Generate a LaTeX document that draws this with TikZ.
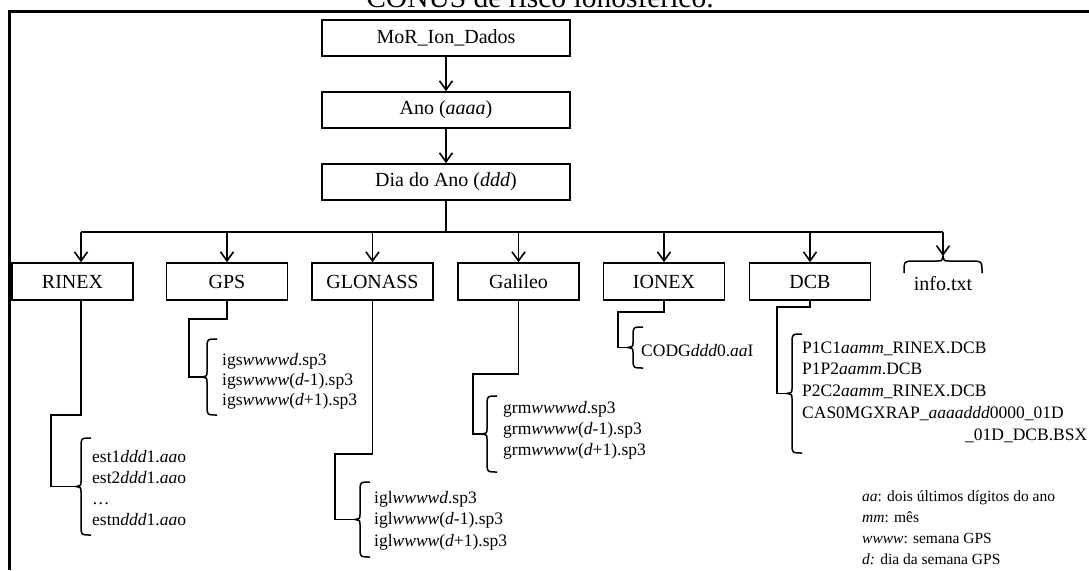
\documentclass[tikz,border=0pt]{standalone}
\usepackage{fontspec}
\setmainfont{Liberation Serif}
\usetikzlibrary{arrows.meta}

% left curly brace in front of a file list: name of tip, x, top, bottom
\newcommand\filebrace[4]{%
  \draw[brc] ({#2+10},#3) .. controls ({#2+1},#3) .. (#2,{#3+5})
    -- (#2,{(#3+#4)/2-5}) .. controls (#2,{(#3+#4)/2-1}) .. ({#2-5},{(#3+#4)/2})
    .. controls (#2,{(#3+#4)/2+1}) .. (#2,{(#3+#4)/2+5})
    -- (#2,{#4-5}) .. controls ({#2+1},#4) .. ({#2+10},#4);
  \coordinate (#1) at ({#2-5},{(#3+#4)/2});}

\begin{document}
\begin{tikzpicture}[x=1pt,y=-1pt,
  ln/.style={line width=1.7pt},
  arr/.style={ln,-{Straight Barb[length=9pt,width=13pt,line width=1.6pt]}},
  box/.style={draw,line width=1.6pt,inner sep=0pt,font=\fontsize{20}{24}\selectfont},
  topbox/.style={box,minimum width=248pt,minimum height=36pt},
  subbox/.style={box,minimum width=121pt,minimum height=37pt},
  files/.style={anchor=base west,align=left,inner sep=0pt,font=\fontsize{17.5}{#1}\selectfont},
  files/.default=21,
  brc/.style={line width=1.5pt},
  frame/.style={line width=3pt}]

\useasboundingbox (0,0) rectangle (1089,570);
\clip (0,0) rectangle (1089,570);

% heading line above the frame
\node[anchor=base,inner sep=0pt,font=\fontsize{29.5}{31}\selectfont] (title) at (540,7) {CONUS de risco ionosférico.};

% frame
\draw[frame] (9,570) -- (9,11.5) -- (1089,11.5);

% folder chain
\node[topbox] (mor) at (446,38) {MoR\_Ion\_Dados};
\node[topbox] (ano) at (446,110) {Ano (\textit{aaaa})};
\node[topbox] (dia) at (446,182) {Dia do Ano (\textit{ddd})};
\draw[arr] (mor) -- (ano);
\draw[arr] (ano) -- (dia);

% sub-folders
\node[subbox] (rinex)   at (72.5,281.5)  {RINEX};
\node[subbox] (gps)     at (227,281.5)   {GPS};
\node[subbox] (glonass) at (372.5,281.5) {GLONASS};
\node[subbox] (galileo) at (518.5,281.5) {Galileo};
\node[subbox] (ionex)   at (664,281.5)   {IONEX};
\node[subbox] (dcb)     at (810,281.5)   {DCB};
\node[inner sep=0pt,font=\fontsize{20}{24}\selectfont] (info) at (943,284) {info.txt};

% distribution bus
\coordinate (busL) at (81,232);
\coordinate (busR) at (943,232);
\coordinate (infotip) at (943,256);
\draw[ln] (dia.south) -- (dia.south |- busL);
\draw[ln] (busL) -- (busR);
\draw[arr] (busL) -- (busL |- rinex.north);
\draw[arr] (gps.north |- busL) -- (gps.north);
\draw[arr] (glonass.north |- busL) -- (glonass.north);
\draw[arr] (galileo.north |- busL) -- (galileo.north);
\draw[arr] (ionex.north |- busL) -- (ionex.north);
\draw[arr] (dcb.north |- busL) -- (dcb.north);
\draw[arr] (busR) -- (infotip);

% brace over info.txt
\draw[brc] (904,273) .. controls (904,262) .. (910,261) -- (937,261)
  .. controls (942,261) .. (infotip) .. controls (944,261) .. (949,261)
  -- (976,261) .. controls (982,262) .. (982,273);

% file lists (placed by the baseline of their last line)
\node[files] (rinexf) at (92,525) {est1\textit{ddd}1.\textit{aa}o\\est2\textit{ddd}1.\textit{aa}o\\\ldots\\estn\textit{ddd}1.\textit{aa}o};
\filebrace{rinext}{81}{438}{535}
\coordinate (rinexk) at (51,415);
\draw[ln] (busL |- rinex.south) |- (rinexk) |- (rinext);

\node[files=20] (gpsf) at (222,405) {igs\textit{wwwwd}.sp3\\igs\textit{wwww}(\textit{d}-1).sp3\\igs\textit{wwww}(\textit{d}+1).sp3};
\filebrace{gpst}{207}{339}{415}
\coordinate (gpsk) at (189,319);
\draw[ln] (gps.south) |- (gpsk) |- (gpst);

\node[files=21.5] (glof) at (374,546) {igl\textit{wwwwd}.sp3\\igl\textit{wwww}(\textit{d}-1).sp3\\igl\textit{wwww}(\textit{d}+1).sp3};
\filebrace{glot}{360}{482}{557}
\coordinate (glok) at (335,454);
\draw[ln] (glonass.south) |- (glok) |- (glot);

\node[files] (galf) at (503,455) {grm\textit{wwwwd}.sp3\\grm\textit{wwww}(\textit{d}-1).sp3\\grm\textit{wwww}(\textit{d}+1).sp3};
\filebrace{galt}{487}{396}{472}
\coordinate (galk) at (473,374);
\draw[ln] (galileo.south) |- (galk) |- (galt);

\node[files] (ionf) at (641,356) {CODG\textit{ddd}0.\textit{aa}I};
\filebrace{iont}{633}{327}{368}
\coordinate (ionk) at (618,312);
\draw[ln] (ionex.south) |- (ionk) |- (iont);

\node[files=21.7] (dcbf) at (802,440) {P1C1\textit{aamm}\_RINEX.DCB\\P1P2\textit{aamm}.DCB\\P2C2\textit{aamm}\_RINEX.DCB\\CAS0MGXRAP\textit{\_aaaaddd}0000\_01D\\\hspace*{163pt}\_01D\_DCB.BSX};
\filebrace{dcbt}{792}{334}{453}
\coordinate (dcbk) at (777,307);
\draw[ln] (dcb.south) |- (dcbk) |- (dcbt);

% notation
\node[anchor=base west,align=left,inner sep=0pt,font=\fontsize{15.5}{20.7}\selectfont] (legend) at (862,564) {\textit{aa}: dois últimos dígitos do ano\\\textit{mm}: mês\\\textit{wwww}: semana GPS\\\textit{d:} dia da semana GPS};
\end{tikzpicture}
\end{document}
